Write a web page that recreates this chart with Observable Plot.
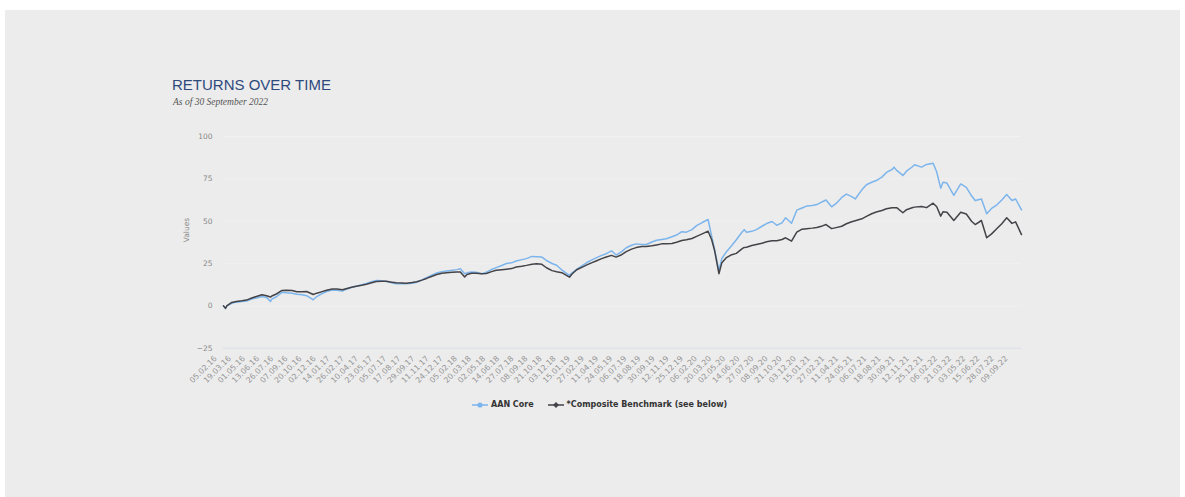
<!DOCTYPE html>
<html><head><meta charset="utf-8">
<script src="https://cdn.jsdelivr.net/npm/d3@7"></script>
<script src="https://cdn.jsdelivr.net/npm/@observablehq/plot@0.6"></script>
<style>
html,body{margin:0;padding:0;background:#fff;width:1185px;height:497px;overflow:hidden;position:relative;}
#panel{position:absolute;left:5px;top:10px;width:1175px;height:487px;background:#ececec;}
#title{position:absolute;left:172px;top:77px;font:15px "Liberation Sans",Arial,sans-serif;color:#2e4a7c;line-height:15px;white-space:nowrap;}
#subtitle{position:absolute;left:173px;top:97px;font:italic 9.5px "Liberation Serif","DejaVu Serif",serif;color:#555;line-height:11px;white-space:nowrap;}
#chart{position:absolute;left:160px;top:120px;}
#legend{position:absolute;left:472px;top:399px;display:flex;align-items:center;font:bold 8px "DejaVu Sans",sans-serif;color:#333;white-space:nowrap;line-height:12px;}
#legend .item{display:flex;align-items:center;margin-right:14px;}
#legend svg{margin-right:3px;}
</style>
</head><body>
<div id="panel"></div>
<div id="title">RETURNS OVER TIME</div>
<div id="subtitle">As of 30 September 2022</div>
<div id="chart"></div>
<div id="legend"></div>
<script>
const seriesNames = ["AAN Core", "*Composite Benchmark (see below)"];
const seriesColors = ["#7cb5ec", "#434348"];

const dates = [
"2016-02-05","2016-02-11","2016-02-15","2016-03-01","2016-03-15","2016-04-01","2016-04-15","2016-05-01","2016-05-15","2016-06-01",
"2016-06-15","2016-06-27","2016-07-01","2016-07-15","2016-08-01","2016-08-15","2016-09-01","2016-09-15","2016-10-01","2016-10-15",
"2016-11-01","2016-11-04","2016-11-15","2016-12-01","2016-12-15","2017-01-01","2017-01-15","2017-02-01","2017-02-15","2017-03-01",
"2017-03-15","2017-04-01","2017-04-15","2017-05-01","2017-05-15","2017-06-01","2017-06-15","2017-07-01","2017-07-15","2017-08-01",
"2017-08-15","2017-09-01","2017-09-15","2017-10-01","2017-10-15","2017-11-01","2017-11-15","2017-12-01","2017-12-15","2018-01-01",
"2018-01-15","2018-01-26","2018-02-08","2018-02-15","2018-03-01","2018-03-15","2018-04-01","2018-04-15","2018-05-01","2018-05-15",
"2018-06-01","2018-06-15","2018-07-01","2018-07-15","2018-08-01","2018-08-15","2018-09-01","2018-09-15","2018-10-01","2018-10-15",
"2018-11-01","2018-11-15","2018-12-01","2018-12-15","2018-12-24","2019-01-01","2019-01-15","2019-02-01","2019-02-15","2019-03-01",
"2019-03-15","2019-04-01","2019-04-15","2019-05-01","2019-05-15","2019-06-01","2019-06-15","2019-07-01","2019-07-15","2019-08-01",
"2019-08-15","2019-09-01","2019-09-15","2019-10-01","2019-10-15","2019-11-01","2019-11-15","2019-12-01","2019-12-15","2020-01-01",
"2020-01-15","2020-02-01","2020-02-19","2020-03-01","2020-03-10","2020-03-23","2020-04-01","2020-04-15","2020-05-01","2020-05-15",
"2020-06-01","2020-06-08","2020-06-15","2020-07-01","2020-07-15","2020-08-01","2020-08-15","2020-09-01","2020-09-15","2020-10-01",
"2020-10-12","2020-10-30","2020-11-15","2020-12-01","2020-12-15","2021-01-01","2021-01-15","2021-02-01","2021-02-12","2021-03-01",
"2021-03-15","2021-04-01","2021-04-15","2021-05-01","2021-05-12","2021-06-01","2021-06-15","2021-07-01","2021-07-15","2021-08-01",
"2021-08-15","2021-09-01","2021-09-07","2021-09-15","2021-10-04","2021-10-15","2021-11-01","2021-11-08","2021-11-30","2021-12-15",
"2022-01-04","2022-01-15","2022-01-27","2022-02-03","2022-02-15","2022-03-08","2022-03-29","2022-04-15","2022-05-01","2022-05-12",
"2022-05-31","2022-06-16","2022-07-01","2022-07-15","2022-08-01","2022-08-16","2022-09-01","2022-09-12","2022-09-30"
];

const aanCore = [
0,-1.5,0,1.5,2.2,2.6,2.9,4.0,4.7,5.5,
5.0,2.6,4.0,5.4,8.0,7.8,7.5,6.9,6.5,6.0,
4.0,3.6,5.5,7.3,8.5,9.3,9.2,8.7,10.0,11.0,
11.6,12.5,13.2,14.2,15.0,14.8,14.4,13.6,13.0,13.0,
13.0,13.4,13.9,15.3,16.7,18.3,19.4,20.1,20.6,21.0,
21.4,21.9,19.0,19.5,20.0,19.8,19.0,19.8,21.5,22.6,
23.8,25.0,25.4,26.5,27.3,27.9,29.2,29.0,28.8,26.8,
25.0,24.0,21.2,19.2,18.0,19.5,21.6,23.8,25.6,27.0,
28.3,29.8,30.8,32.5,30.0,32.0,34.3,35.8,36.6,36.3,
36.2,37.7,38.7,39.2,39.6,40.8,41.8,43.8,43.5,45.0,
47.4,49.2,51.0,41.0,33.0,21.0,28.0,32.0,35.6,39.0,
43.5,45.0,43.5,44.0,45.0,47.0,48.6,49.8,47.6,49.0,
52.0,48.8,56.5,57.8,58.9,59.2,59.8,61.5,62.5,58.5,
60.5,64.0,66.0,64.5,63.1,68.5,71.5,73.0,74.0,76.0,
78.8,80.5,81.9,80.0,77.0,79.5,82.0,83.3,81.9,83.5,
84.2,79.0,69.5,73.0,72.5,65.2,72.0,70.0,65.0,62.2,
63.1,54.4,57.5,59.3,62.5,65.8,62.2,63.1,56.7
];

const benchmark = [
0,-1.5,0,2.0,2.6,3.0,3.4,4.6,5.5,6.6,
6.0,5.2,5.8,7.0,9.1,9.2,9.1,8.3,8.4,8.5,
7.0,6.7,7.5,8.4,9.2,10.0,9.9,9.5,10.3,11.0,
11.6,12.2,12.8,13.7,14.4,14.6,14.5,14.0,13.6,13.5,
13.4,13.8,14.2,15.2,16.2,17.5,18.5,19.2,19.6,19.8,
20.0,20.0,17.0,18.5,19.2,19.2,18.9,19.1,20.2,21.0,
21.3,21.6,22.0,22.9,23.4,23.9,24.6,24.8,24.5,22.5,
20.8,20.2,19.6,18.0,16.9,18.8,21.3,22.9,24.2,25.4,
26.5,27.9,28.8,29.8,28.8,30.2,32.0,33.5,34.4,35.0,
35.0,35.5,36.0,36.6,36.7,36.8,37.6,38.6,39.0,39.8,
41.0,42.5,44.1,39.0,32.5,19.0,25.5,28.5,30.2,31.0,
33.6,34.5,34.6,35.6,36.2,37.0,37.8,38.5,38.4,39.2,
40.2,38.2,43.5,45.3,45.6,45.9,46.3,47.2,48.0,45.6,
46.2,47.0,48.5,49.7,50.3,51.4,52.8,54.4,55.4,56.3,
57.3,57.9,58.0,58.0,55.0,56.8,57.9,58.3,58.7,58.0,
60.6,58.5,53.0,55.5,55.3,50.4,55.3,54.2,50.0,48.0,
50.4,40.2,42.5,45.2,48.5,52.0,48.7,49.6,42.1
];

const tickLabels = ["05.02.16","19.03.16","01.05.16","13.06.16","26.07.16","07.09.16","20.10.16","02.12.16","14.01.17","26.02.17",
"10.04.17","23.05.17","05.07.17","17.08.17","29.09.17","11.11.17","24.12.17","05.02.18","20.03.18","02.05.18",
"14.06.18","27.07.18","08.09.18","21.10.18","03.12.18","15.01.19","27.02.19","11.04.19","24.05.19","06.07.19",
"18.08.19","30.09.19","12.11.19","25.12.19","06.02.20","20.03.20","02.05.20","14.06.20","27.07.20","08.09.20",
"21.10.20","03.12.20","15.01.21","27.02.21","11.04.21","24.05.21","06.07.21","18.08.21","30.09.21","12.11.21",
"25.12.21","06.02.22","21.03.22","03.05.22","15.06.22","28.07.22","09.09.22"];

const yTicks = [-25, 0, 25, 50, 75, 100];

const parse = d3.utcParse("%Y-%m-%d");
const parseTick = d3.utcParse("%d.%m.%y");
const fmtTick = d3.utcFormat("%d.%m.%y");
const aanRows = dates.map((d, i) => ({date: parse(d), value: aanCore[i]}));
const benchRows = dates.map((d, i) => ({date: parse(d), value: benchmark[i]}));

const chart = Plot.plot({
  width: 880, height: 270,
  marginLeft: 63, marginRight: 19, marginTop: 16, marginBottom: 42.3,
  style: {background: "transparent", fontFamily: "'DejaVu Sans', sans-serif", fontSize: "7.5px", color: "#888", overflow: "visible"},
  x: {type: "utc", domain: [parse(dates[0]), parse(dates[dates.length - 1])]},
  y: {domain: [-25, 100]},
  marks: [
    Plot.gridY(yTicks.filter(t => t > -25), {stroke: "#ffffff", strokeOpacity: 0.25, strokeWidth: 1}),
    Plot.ruleY([-25], {stroke: "#d9dfe8", strokeWidth: 1}),
    Plot.axisY({ticks: yTicks, tickSize: 0, tickPadding: 11, label: null, fill: "#888", fontSize: 7.5}),
    Plot.axisX({ticks: tickLabels.map(parseTick), tickFormat: fmtTick, tickSize: 0, tickRotate: -45, tickPadding: 9, dx: -8, label: null, fill: "#959595", fontSize: 7.8}),
    Plot.text(["Values"], {text: d => d, frameAnchor: "left", rotate: -90, dx: -37, fill: "#888", fontSize: 7.5}),
    Plot.line(aanRows, {x: "date", y: "value", stroke: seriesColors[0], strokeWidth: 1.5}),
    Plot.line(benchRows, {x: "date", y: "value", stroke: seriesColors[1], strokeWidth: 1.5})
  ]
});
document.getElementById("chart").appendChild(chart);

const legend = document.getElementById("legend");
seriesNames.forEach((name, i) => {
  const item = document.createElement("div");
  item.className = "item";
  const marker = i === 0
    ? `<circle cx="8" cy="5" r="2.6" fill="${seriesColors[i]}"/>`
    : `<path d="M8 2 L11 5 L8 8 L5 5 Z" fill="${seriesColors[i]}"/>`;
  item.innerHTML = `<svg width="16" height="10"><line x1="0" x2="16" y1="5" y2="5" stroke="${seriesColors[i]}" stroke-width="1.5"/>${marker}</svg><span>${name}</span>`;
  legend.appendChild(item);
});
</script>
</body></html>
